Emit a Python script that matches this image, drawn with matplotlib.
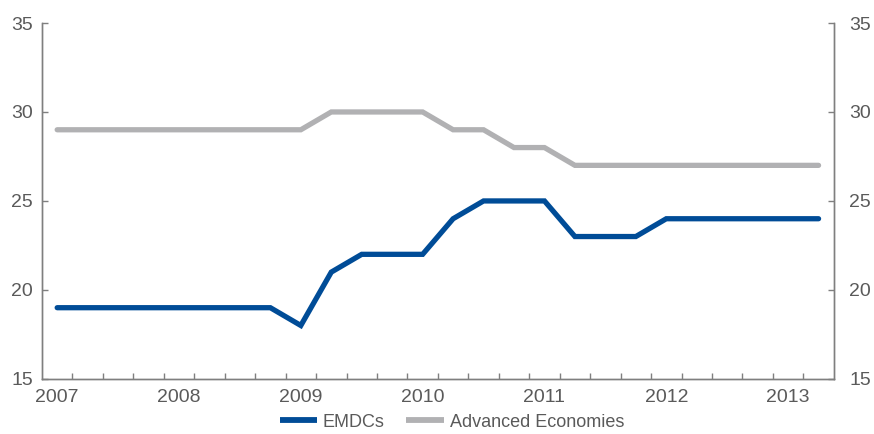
import numpy as np
import matplotlib.pyplot as plt

plt.rcParams['font.family'] = ['Liberation Sans', 'DejaVu Sans']

# quarterly observations, 2007Q1 .. 2013Q2
quarters = ['2007Q1', '2007Q2', '2007Q3', '2007Q4',
            '2008Q1', '2008Q2', '2008Q3', '2008Q4',
            '2009Q1', '2009Q2', '2009Q3', '2009Q4',
            '2010Q1', '2010Q2', '2010Q3', '2010Q4',
            '2011Q1', '2011Q2', '2011Q3', '2011Q4',
            '2012Q1', '2012Q2', '2012Q3', '2012Q4',
            '2013Q1', '2013Q2']
emdcs = [19, 19, 19, 19, 19, 19, 19, 19,
         18, 21, 22, 22, 22, 24, 25, 25,
         25, 23, 23, 23, 24, 24, 24, 24,
         24, 24]
advanced = [29, 29, 29, 29, 29, 29, 29, 29,
            29, 30, 30, 30, 30, 29, 29, 28,
            28, 27, 27, 27, 27, 27, 27, 27,
            27, 27]
year_labels = ['2007', '2008', '2009', '2010', '2011', '2012', '2013']

BLUE = '#004c97'
GREY = '#b1b1b3'
AXIS = '#7f7f7f'
TEXT = '#5a5a5a'
FS = 14

fig = plt.figure(figsize=(8.74, 4.34), dpi=100)
ax = fig.add_axes([0.048, 0.127, 0.906, 0.82])

x = np.arange(len(quarters))
ax.plot(x, emdcs, color=BLUE, lw=3.8, solid_capstyle='round',
        solid_joinstyle='miter', label='EMDCs')
ax.plot(x, advanced, color=GREY, lw=3.8, solid_capstyle='round',
        solid_joinstyle='miter', label='Advanced Economies')

ax.set_xlim(-0.5, len(quarters) - 0.5)
ax.set_ylim(15, 35)
ax.set_yticks(range(15, 36, 5))

# year labels on the first quarter, small ticks between quarters
ax.set_xticks(x[::4])
ax.set_xticklabels(year_labels)
ax.set_xticks(np.arange(0.5, len(quarters) - 1, 1), minor=True)
ax.tick_params(axis='x', which='major', length=0, pad=7,
               labelsize=FS, labelcolor=TEXT)
ax.tick_params(axis='x', which='minor', direction='in', length=4,
               width=1, color=AXIS)
ax.tick_params(axis='y', direction='in', length=4, width=1, color=AXIS,
               labelsize=FS, labelcolor=TEXT, pad=6.5)

ax2 = ax.twinx()
ax2.set_ylim(15, 35)
ax2.set_yticks(range(15, 36, 5))
ax2.tick_params(axis='y', direction='in', length=4, width=1, color=AXIS,
                labelsize=FS, labelcolor=TEXT, pad=11)

for a in (ax, ax2):
    a.spines['top'].set_visible(False)
    for s in ('left', 'right', 'bottom'):
        a.spines[s].set_color(AXIS)
        a.spines[s].set_linewidth(1)

leg = fig.legend(loc='lower center', bbox_to_anchor=(0.517, -0.03), ncol=2,
                 frameon=False, fontsize=13, labelcolor=TEXT,
                 handlelength=2.1, handletextpad=0.3, columnspacing=1.2)
for h in leg.get_lines():
    h.set_linewidth(4.2)
    h.set_solid_capstyle('butt')

fig.savefig('out.png', dpi=100)
